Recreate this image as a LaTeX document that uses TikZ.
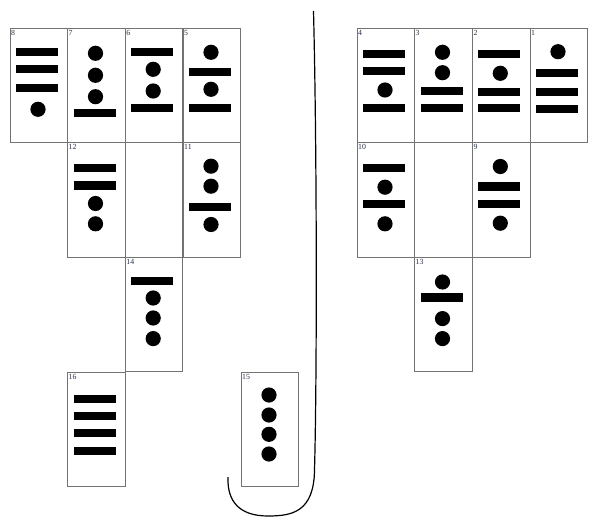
\documentclass[tikz,border=0pt]{standalone}
\usepackage{fontspec}
\setmainfont{Liberation Serif}
\definecolor{numcol}{RGB}{40,48,72}
\newcommand\cardat[5]{%
  \node[card] (#1) at (#2,#3) {};
  \node[num] (#1-lab) at (#1.north west) {#4};
  \foreach \t/\o [count=\i] in {#5} {
    \node[\t] (#1-\i) at (#2+27,#3+\o) {};
  }%
}
\begin{document}
\begin{tikzpicture}[x=1pt,y=-1pt,
  card/.style={draw=black!55,line width=0.9pt,fill=white,anchor=north west,
    minimum width=57.7pt,minimum height=114.5pt,inner sep=0pt,outer sep=0pt},
  num/.style={anchor=north west,inner sep=0pt,font=\fontsize{7.8}{8}\selectfont,
    text=numcol,xshift=1pt,yshift=-2pt},
  symB/.style={fill=black,minimum width=42pt,minimum height=8.3pt,inner sep=0pt,outer sep=0pt},
  symD/.style={circle,fill=black,minimum size=15.2pt,inner sep=0pt,outer sep=0pt,xshift=1pt},
  rail/.style={draw=black,line width=1.2pt}]
\useasboundingbox (0,0) rectangle (600,524);
% left group, row 1
\cardat{c8}{10}{28}{8}{symB/23.7,symB/40.7,symB/59.7,symD/81.3}
\cardat{c7}{67.5}{28}{7}{symD/25.3,symD/47.3,symD/68.7,symB/84.7}
\cardat{c6}{125.2}{28}{6}{symB/24.3,symD/41.3,symD/63,symB/80.3}
\cardat{c5}{183}{28}{5}{symD/24.3,symB/44,symD/61.3,symB/80.3}
% left group, row 2
\cardat{c12}{67.5}{142.5}{12}{symB/25.3,symB/43,symD/61,symD/81.3}
\node[card] (blankL) at (125.2,142.5) {};
\cardat{c11}{183}{142.5}{11}{symD/23.7,symD/43.7,symB/64.3,symD/82}
% left group, rows 3 and 4
\cardat{c14}{125.2}{257.3}{14}{symB/24,symD/40.7,symD/60.7,symD/81.3}
\cardat{c16}{67.5}{372}{16}{symB/26.7,symB/43.7,symB/61.3,symB/79.3}
\cardat{c15}{241}{372}{15}{symD/23,symD/43,symD/62.3,symD/82}
% right group, row 1
\cardat{c4}{357}{28}{4}{symB/26.3,symB/42.7,symD/62,symB/80.3}
\cardat{c3}{414.5}{28}{3}{symD/24.3,symD/44.7,symB/62.7,symB/80.3}
\cardat{c2}{472.3}{28}{2}{symB/26.3,symD/45.3,symB/64.3,symB/80.3}
\cardat{c1}{530}{28}{1}{symD/23.7,symB/45.3,symB/63.7,symB/81}
% right group, row 2
\cardat{c10}{357}{142.5}{10}{symB/25.7,symD/44.7,symB/61.3,symD/81.3}
\node[card] (blankR) at (414.5,142.5) {};
\cardat{c9}{472.3}{142.5}{9}{symD/24,symB/44,symB/61.3,symD/80.7}
% right group, row 3
\cardat{c13}{414.5}{257.3}{13}{symD/24.7,symB/40.3,symD/61.3,symD/81.3}
% dividing line
\coordinate (railtop) at (313.5,11);
\coordinate (railend) at (228,477);
\draw[rail] (railtop) .. controls (317,150) and (317,380) .. (314.5,470)
  .. controls (314,512) and (292,516) .. (268,516)
  .. controls (240,516) and (227,502) .. (railend);
\end{tikzpicture}
\end{document}
